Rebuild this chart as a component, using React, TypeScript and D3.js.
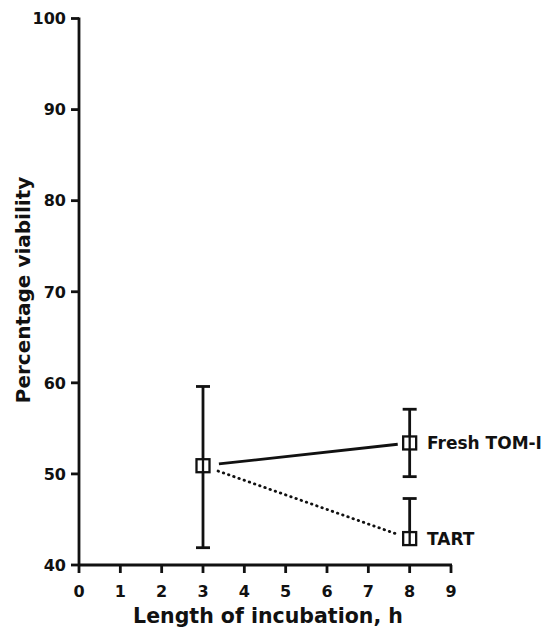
import React from "react";
import * as d3 from "d3";

// Incubation times (h) and mean viability (%) with error bar limits
const times = [3, 8];
const freshMean = [50.9, 53.4];
const freshLow = [41.9, 49.7];
const freshHigh = [59.6, 57.1];
const tartMean = [50.9, 42.9];
const tartHigh = [59.6, 47.3];

const xTicks = [0, 1, 2, 3, 4, 5, 6, 7, 8, 9];
const yTicks = [40, 50, 60, 70, 80, 90, 100];

const W = 557;
const H = 633;
const FONT = "'DejaVu Sans', 'Liberation Sans', Arial, sans-serif";

export default function App() {
  const x = d3.scaleLinear().domain([0, 9]).range([79, 451]);
  const y = d3.scaleLinear().domain([40, 100]).range([565, 18.5]);

  const capW = 7;
  const sq = 6.5;

  // Segment between two points, trimmed at each end so it stops short of the markers
  const trimmed = (x0: number, y0: number, x1: number, y1: number, a: number, b: number) => {
    const dx = x1 - x0;
    const dy = y1 - y0;
    const len = Math.hypot(dx, dy);
    const ux = dx / len;
    const uy = dy / len;
    return [
      [x0 + ux * a, y0 + uy * a],
      [x1 - ux * b, y1 - uy * b],
    ] as [number, number][];
  };

  const line = d3.line();
  const freshSeg = trimmed(x(times[0]), y(freshMean[0]), x(times[1]), y(freshMean[1]), 16, 12);
  const tartSeg = trimmed(x(times[0]), y(tartMean[0]), x(times[1]), y(tartMean[1]), 16, 14);

  // TART at 8 h only shows the upper half of its bar
  const bars: { t: number; lo: number; hi: number; lowCap: boolean }[] = [
    { t: times[0], lo: freshLow[0], hi: freshHigh[0], lowCap: true },
    { t: times[1], lo: freshLow[1], hi: freshHigh[1], lowCap: true },
    { t: times[1], lo: tartMean[1], hi: tartHigh[1], lowCap: false },
  ];

  const points = [
    { t: times[0], v: freshMean[0] },
    { t: times[1], v: freshMean[1] },
    { t: times[1], v: tartMean[1] },
  ];

  return (
    <svg
      width={W}
      height={H}
      style={{ position: "absolute", left: 0, top: 0, background: "#fff" }}
      fontFamily={FONT}
      fontWeight="bold"
    >
      {/* axes */}
      <g stroke="#111" strokeWidth={2.8} fill="none">
        <line x1={x(0)} x2={x(0)} y1={y(100) - 1} y2={y(40) + 1} />
        <line x1={x(0) - 1} x2={x(9) + 1} y1={y(40)} y2={y(40)} />
        {yTicks.map((t) => (
          <line key={"yt" + t} x1={x(0) - 8} x2={x(0)} y1={y(t)} y2={y(t)} />
        ))}
        {xTicks.map((t) => (
          <line key={"xt" + t} x1={x(t)} x2={x(t)} y1={y(40)} y2={y(40) + 8} />
        ))}
      </g>
      <g fill="#111" fontSize={16}>
        {yTicks.map((t) => (
          <text key={"yl" + t} x={x(0) - 13} y={y(t)} dy="0.36em" textAnchor="end">
            {t}
          </text>
        ))}
        {xTicks.map((t) => (
          <text key={"xl" + t} x={x(t)} y={597} textAnchor="middle">
            {t}
          </text>
        ))}
      </g>
      <text x={(x(0) + x(9)) / 2 + 3} y={623} textAnchor="middle" fontSize={20.5} fill="#111">
        Length of incubation, h
      </text>
      <text
        transform={`translate(30, ${290}) rotate(-90)`}
        textAnchor="middle"
        fontSize={20}
        fill="#111"
      >
        Percentage viability
      </text>

      {/* connecting lines */}
      <path d={line(freshSeg) || ""} stroke="#111" strokeWidth={2.8} fill="none" />
      <path
        d={line(tartSeg) || ""}
        stroke="#111"
        strokeWidth={2.8}
        fill="none"
        strokeDasharray="0.5 5"
        strokeLinecap="round"
      />

      {/* error bars */}
      <g stroke="#111" strokeWidth={2.8} fill="none">
        {bars.map((b, i) => (
          <g key={"eb" + i}>
            <line x1={x(b.t)} x2={x(b.t)} y1={y(b.lo)} y2={y(b.hi)} />
            <line x1={x(b.t) - capW} x2={x(b.t) + capW} y1={y(b.hi)} y2={y(b.hi)} />
            {b.lowCap ? (
              <line x1={x(b.t) - capW} x2={x(b.t) + capW} y1={y(b.lo)} y2={y(b.lo)} />
            ) : null}
          </g>
        ))}
      </g>

      {/* markers */}
      <g stroke="#111" strokeWidth={2.3} fill="#fff">
        {points.map((p, i) => (
          <rect key={"pt" + i} x={x(p.t) - sq} y={y(p.v) - sq} width={sq * 2} height={sq * 2} />
        ))}
      </g>
      <g stroke="#111" strokeWidth={2.3}>
        {points.map((p, i) => (
          <line key={"pl" + i} x1={x(p.t)} x2={x(p.t)} y1={y(p.v) - sq} y2={y(p.v) + sq} />
        ))}
      </g>

      {/* series labels */}
      <g fill="#111" fontSize={17}>
        <text x={427} y={y(freshMean[1])} dy="0.36em">Fresh TOM-I</text>
        <text x={427} y={y(tartMean[1])} dy="0.36em">TART</text>
      </g>
    </svg>
  );
}
